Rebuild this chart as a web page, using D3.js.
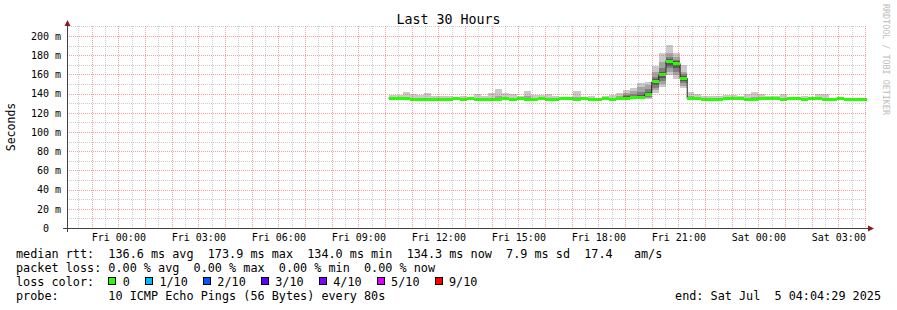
<!DOCTYPE html>
<html>
<head>
<meta charset="utf-8">
<script src="https://cdn.jsdelivr.net/npm/d3@7"></script>
<style>
  body { margin: 0; background: #fff; }
  text { font-family: "DejaVu Sans Mono", monospace; fill: #000; }
</style>
</head>
<body>
<div id="chart"></div>
<script>
// time window of the graph
const endTime = new Date(2025, 6, 5, 4, 4, 29);
const startTime = d3.timeHour.offset(endTime, -30);
const firstBar = new Date(2025, 6, 4, 10, 8, 0);
const barMinutes = 16;

// median rtt per 16 min step (ms)
const rttMedian = [
  135.2,135.2,135.0,134.3,134.3,134.2,134.2,134.3,134.3,134.5,
  134.3,134.8,134.3,134.3,134.2,134.3,134.4,134.3,134.8,134.3,
  134.3,134.5,134.3,134.3,135.0,134.5,134.3,134.8,134.3,134.3,
  135.0,134.3,134.4,135.4,135.5,135.8,139.3,152.1,159.7,173.9,
  171.3,156.1,134.7,134.5,134.0,134.0,134.3,134.8,134.8,134.8,
  134.3,134.3,134.5,134.8,134.8,134.3,134.8,134.5,134.3,134.8,
  134.8,134.3,134.2,135.2,134.3,134.3,134.3,134.3
];
// outer smoke (min / max ping)
const smokeMax = [
  138.5,138.5,141.7,139.6,138.5,140.6,137.5,137.5,137.5,136.8,
  137.8,135.8,139.6,137.5,140.6,144.8,140.6,139.6,137.5,142.7,
  138.5,138.5,139.6,137.5,136.0,135.8,142.7,135.8,137.5,135.8,
  137.5,138.5,141.0,143.7,146.0,151.5,152.4,168.8,181.9,190.6,
  182.6,169.8,141.7,140.0,137.5,137.5,137.5,138.5,138.5,137.5,
  139.6,141.7,139.6,137.5,137.5,139.6,136.5,135.8,137.5,136.5,
  139.6,139.6,135.0,136.5,135.5,135.5,135.5,135.5
];
const smokeMin = [
  134.6,134.7,134.5,133.9,133.9,133.8,133.9,133.9,134.0,134.0,
  133.9,134.2,133.9,133.9,133.8,133.9,134.0,133.9,134.3,133.9,
  133.9,134.0,133.9,133.9,134.5,134.0,133.9,134.3,133.9,133.9,
  134.5,133.9,133.8,134.0,134.0,134.0,134.5,140.5,146.5,159.0,
  155.0,145.5,134.0,134.0,133.6,133.6,133.9,134.3,134.3,134.3,
  133.9,133.9,134.0,134.3,134.3,133.9,134.3,134.0,133.9,134.3,
  134.3,133.9,133.8,134.7,133.9,133.9,133.9,133.9
];
// second smoke layer (2nd / 9th ping)
const smoke2Hi = [
  135.8,135.8,136.5,135.5,135.2,135.6,135.0,135.0,135.0,136.6,
  135.3,135.4,135.5,135.2,135.5,137.0,135.5,135.3,135.6,137.8,
  135.2,135.4,135.4,135.2,135.6,135.1,136.5,135.4,135.2,135.1,
  135.6,135.3,137.0,141.0,142.5,147.0,149.0,162.0,173.3,181.9,
  178.5,162.8,137.5,136.5,135.0,135.0,135.2,135.6,135.6,135.4,
  135.5,136.0,135.4,135.6,135.5,135.3,135.5,135.2,135.2,135.5,
  135.6,135.3,134.8,135.6,135.0,135.0,135.0,135.0
];
const smoke2Lo = [
  134.8,134.8,134.7,134.0,134.0,134.0,134.0,134.0,134.1,134.2,
  134.0,134.4,134.0,134.0,134.0,134.0,134.1,134.0,134.5,134.0,
  134.0,134.2,134.0,134.0,134.7,134.2,134.0,134.5,134.0,134.0,
  134.7,134.0,134.0,134.5,134.5,134.5,135.5,143.5,150.0,162.8,
  159.4,148.0,134.2,134.2,133.8,133.8,134.0,134.5,134.5,134.5,
  134.0,134.0,134.2,134.5,134.5,134.0,134.5,134.2,134.0,134.5,
  134.5,134.0,133.9,134.8,134.0,134.0,134.0,134.0
];
// inner smoke layers, only around the evening peak (bars 32..43)
const spikeFrom = 32;
const smoke3Lo = [134.2,134.8,135.0,135.0,136.5,146.0,153.5,166.3,163.0,150.7,134.4,134.3];
const smoke3Hi = [135.5,138.5,139.5,142.0,145.0,157.6,167.0,178.0,175.5,160.0,136.0,135.5];
const smoke4Lo = [134.3,135.0,135.2,135.3,137.5,148.5,156.0,169.0,166.3,153.0,134.5,134.4];
const smoke4Hi = [134.8,137.0,137.5,138.5,142.0,155.0,163.0,176.5,173.5,158.5,135.2,134.9];

const yTicks = [0, 20, 40, 60, 80, 100, 120, 140, 160, 180, 200];
const yMinorTicks = [10, 30, 50, 70, 90, 110, 130, 150, 170, 190, 210];

const lossLabels = ["0", "1/10", "2/10", "3/10", "4/10", "5/10", "9/10"];
const lossColors = ["#26ff00", "#00b8ff", "#0059ff", "#5e00ff", "#7e00ff", "#dd00ff", "#ff0000"];
const statRows = [
  "median rtt:  136.6 ms avg  173.9 ms max  134.0 ms min  134.3 ms now  7.9 ms sd  17.4   am/s",
  "packet loss: 0.00 % avg  0.00 % max  0.00 % min  0.00 % now"
];
const probeText = "probe:       10 ICMP Echo Pings (56 Bytes) every 80s";
const endText = "end: Sat Jul  5 04:04:29 2025";

var svg = d3.select("#chart").append("svg")
  .attr("width", 897)
  .attr("height", 310);
svg.append("rect").attr("width", 897).attr("height", 310).attr("fill", "#fff");

var x = d3.scaleTime().domain([startTime, endTime]).range([67, 867]);
var y = d3.scaleLinear().domain([0, 210]).range([228, 26.4]);

var times = rttMedian.map((d, i) => d3.timeMinute.offset(firstBar, i * barMinutes));
var barEnd = t => d3.timeMinute.offset(t, barMinutes);

svg.append("clipPath").attr("id", "plot")
  .append("rect").attr("x", 67).attr("y", 20).attr("width", 800).attr("height", 208);
var plot = svg.append("g").attr("clip-path", "url(#plot)");

// smoke layers, outer to inner
function smoke(lo, hi, from, color) {
  plot.append("g").selectAll("rect")
    .data(lo)
    .join("rect")
      .attr("x", (d, i) => x(times[i + from]))
      .attr("width", (d, i) => x(barEnd(times[i + from])) - x(times[i + from]))
      .attr("y", (d, i) => y(hi[i]))
      .attr("height", (d, i) => y(d) - y(hi[i]))
      .attr("fill", color)
      .attr("shape-rendering", "crispEdges");
}
smoke(smokeMin, smokeMax, 0, "#cacaca");
smoke(smoke2Lo, smoke2Hi, 0, "#a4a4a4");
smoke(smoke3Lo, smoke3Hi, spikeFrom, "#7e7e7e");
smoke(smoke4Lo, smoke4Hi, spikeFrom, "#585858");

// median step line
var pts = times.map((t, i) => [t, rttMedian[i]]);
pts.push([barEnd(times[times.length - 1]), rttMedian[rttMedian.length - 1]]);
var medLine = d3.line()
  .x(d => x(d[0]))
  .y(d => y(d[1]))
  .curve(d3.curveStepAfter);
plot.append("path")
  .attr("d", medLine(pts))
  .attr("fill", "none")
  .attr("stroke", "#202020")
  .attr("stroke-width", 1);

// median band in loss colour (no loss -> green)
plot.append("g").selectAll("rect")
  .data(rttMedian)
  .join("rect")
    .attr("x", (d, i) => x(times[i]))
    .attr("width", (d, i) => x(barEnd(times[i])) - x(times[i]))
    .attr("y", d => y(d) - 1.5)
    .attr("height", 3)
    .attr("fill", lossColors[0])
    .attr("shape-rendering", "crispEdges");

// grid (drawn over the data like rrdtool)
var grid = svg.append("g").attr("shape-rendering", "crispEdges").attr("stroke-dasharray", "1,1");
var px = v => Math.round(v) + 0.5;
var minorX = x.ticks(d3.timeMinute.every(30)).filter(t => t.getMinutes() !== 0);
var majorX = x.ticks(d3.timeHour.every(1));
grid.selectAll(".hmin").data(yMinorTicks).join("line")
  .attr("x1", 67).attr("x2", 867).attr("y1", d => px(y(d))).attr("y2", d => px(y(d)))
  .attr("stroke", "rgba(140,140,140,0.45)");
grid.selectAll(".vmin").data(minorX).join("line")
  .attr("y1", 26).attr("y2", 228).attr("x1", d => px(x(d))).attr("x2", d => px(x(d)))
  .attr("stroke", "rgba(140,140,140,0.45)");
grid.selectAll(".hmaj").data(yTicks.slice(1)).join("line")
  .attr("x1", 67).attr("x2", 867).attr("y1", d => px(y(d))).attr("y2", d => px(y(d)))
  .attr("stroke", "rgba(230,70,70,0.5)");
grid.selectAll(".vmaj").data(majorX).join("line")
  .attr("y1", 26).attr("y2", 228).attr("x1", d => px(x(d))).attr("x2", d => px(x(d)))
  .attr("stroke", "rgba(230,70,70,0.5)");

// axes lines and arrows
svg.append("line").attr("x1", 63).attr("x2", 869).attr("y1", 228.5).attr("y2", 228.5)
  .attr("stroke", "#404040").attr("shape-rendering", "crispEdges");
svg.append("line").attr("x1", 67.5).attr("x2", 67.5).attr("y1", 232).attr("y2", 25)
  .attr("stroke", "#404040").attr("shape-rendering", "crispEdges");
svg.append("path").attr("d", "M64.5,26 L70.5,26 L67.5,20 Z").attr("fill", "#8b1a1a");
svg.append("path").attr("d", "M868,225.5 L868,231.5 L874,228.5 Z").attr("fill", "#8b1a1a");

// y tick labels
var yAxis = svg.append("g")
  .attr("transform", "translate(67,0)")
  .call(d3.axisLeft(y).tickValues(yTicks).tickSize(0).tickPadding(6)
    .tickFormat(d => d === 0 ? "0\u00a0\u00a0" : d + " m"));
yAxis.select(".domain").remove();
yAxis.selectAll("text").attr("font-family", "DejaVu Sans Mono").attr("font-size", 10).attr("fill", "#000");

// x tick labels
var xAxis = svg.append("g")
  .attr("transform", "translate(0,228)")
  .call(d3.axisBottom(x).ticks(d3.timeHour.every(3)).tickSize(0).tickPadding(5.6)
    .tickFormat(d3.timeFormat("%a %H:%M")));
xAxis.select(".domain").remove();
xAxis.selectAll("text").attr("font-family", "DejaVu Sans Mono").attr("font-size", 10).attr("fill", "#000");

// titles
svg.append("text").attr("x", 448.5).attr("y", 24).attr("text-anchor", "middle")
  .attr("font-size", 13.3).text("Last 30 Hours");
svg.append("text").attr("transform", "translate(15,127) rotate(-90)").attr("text-anchor", "middle")
  .attr("font-size", 11.5).text("Seconds");
svg.append("text").attr("transform", "translate(883,4) rotate(90)")
  .attr("font-size", 8.4).style("fill", "#bdbdbd").text("RRDTOOL / TOBI OETIKER");

// legend
var legend = svg.append("g").attr("font-size", 11.8);
statRows.forEach(function(row, i) {
  legend.append("text").attr("x", 16).attr("y", 258 + i * 14)
    .style("white-space", "pre").text(row);
});
legend.append("text").attr("x", 16).attr("y", 286).style("white-space", "pre").text("loss color:");
var cx = 108.3;
lossLabels.forEach(function(lab, i) {
  legend.append("rect").attr("x", Math.round(cx) + 0.5).attr("y", 277.5).attr("width", 7).attr("height", 7)
    .attr("fill", lossColors[i]).attr("stroke", "#000").attr("shape-rendering", "crispEdges");
  var t = legend.append("text").attr("x", cx + 14.5).attr("y", 286).text(lab);
  cx = cx + 14.5 + t.node().getComputedTextLength() + 15;
});
legend.append("text").attr("x", 16).attr("y", 300).style("white-space", "pre").text(probeText);
legend.append("text").attr("x", 881).attr("y", 300).attr("text-anchor", "end")
  .style("white-space", "pre").text(endText);
</script>
</body>
</html>
